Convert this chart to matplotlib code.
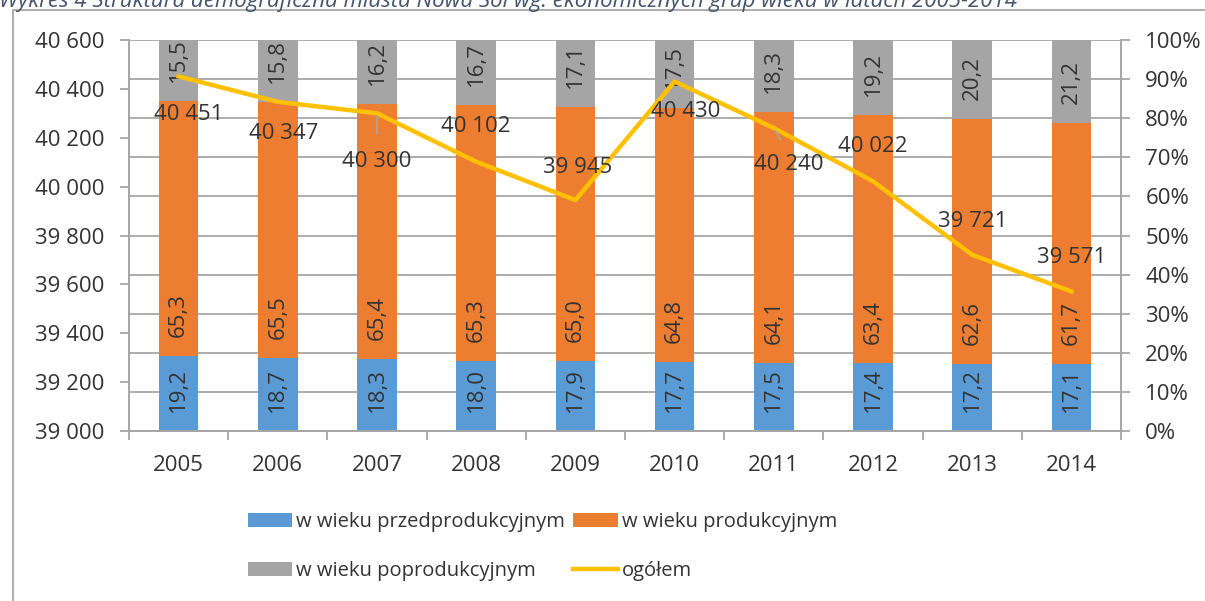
import numpy as np
import matplotlib
matplotlib.use("Agg")
import matplotlib.pyplot as plt
from matplotlib.patches import Rectangle
from matplotlib.ticker import FuncFormatter

# Data
years = ['2005', '2006', '2007', '2008', '2009', '2010', '2011', '2012', '2013', '2014']
pre_working = [19.2, 18.7, 18.3, 18.0, 17.9, 17.7, 17.5, 17.4, 17.2, 17.1]
working = [65.3, 65.5, 65.4, 65.3, 65.0, 64.8, 64.1, 63.4, 62.6, 61.7]
post_working = [15.5, 15.8, 16.2, 16.7, 17.1, 17.5, 18.3, 19.2, 20.2, 21.2]
total = [40451, 40347, 40300, 40102, 39945, 40430, 40240, 40022, 39721, 39571]

labels = ['w wieku przedprodukcyjnym', 'w wieku produkcyjnym',
          'w wieku poprodukcyjnym', 'ogółem']
title = 'Wykres 4 Struktura demograficzna miasta Nowa Sól wg. ekonomicznych grup wieku w latach 2005-2014'

# label offsets for the line values (pixels, x right / y up)
total_offsets = [(10, -38), (6, -32), (0, -48), (0, 35), (2, 33),
                 (11, -30), (15, -37), (0, 35), (0, 33), (0, 34)]
leader = [False, False, True, False, False, False, True, False, False, False]

plt.rcParams['font.family'] = ['Open Sans', 'DejaVu Sans']
colors = ['#5B9BD5', '#ED7D31', '#A5A5A5']
grid_c = '#A6A6A6'
text_c = '#333333'
fs = 16

W, H = 1205, 601
fig = plt.figure(figsize=(W / 100, H / 100), dpi=100)
fig.subplots_adjust(left=129 / W, right=1121 / W, top=1 - 40 / H, bottom=1 - 431 / H)
ax = fig.add_subplot(111)
ax2 = ax.twinx()

x = np.arange(len(years))
pre = np.array(pre_working) / 100
wrk = np.array(working) / 100
post = np.array(post_working) / 100

b1 = ax.bar(x, pre, width=0.4, color=colors[0], zorder=2)
b2 = ax.bar(x, wrk, width=0.4, bottom=pre, color=colors[1], zorder=2)
b3 = ax.bar(x, post, width=0.4, bottom=pre + wrk, color=colors[2], zorder=2)

# bar labels at the base of each segment, rotated
for vals, bases in [(pre_working, np.zeros(len(x))), (working, pre), (post_working, pre + wrk)]:
    for i, v in enumerate(vals):
        ax.annotate(f'{v:.1f}'.replace('.', ','), (x[i], bases[i]),
                    xytext=(0, 13.7), textcoords='offset points',
                    rotation=90, ha='center', va='bottom',
                    fontsize=fs, color=text_c, zorder=3)

ax.set_ylim(0, 1)
ax.set_xlim(-0.5, len(years) - 0.5)
ax.set_yticks(np.arange(0, 1.01, 0.1))
ax.yaxis.set_major_formatter(FuncFormatter(lambda v, p: f'{v * 100:.0f}%'))
ax.yaxis.tick_right()
ax.grid(axis='y', color=grid_c, lw=1.3, zorder=0)
ax.set_axisbelow(True)

ax.set_xticks(np.arange(-0.5, len(years), 1.0))
ax.set_xticklabels([])
ax.set_xticks(x, minor=True)
ax.set_xticklabels(years, minor=True)
ax.tick_params(axis='x', which='major', length=6.5, color=grid_c, width=1.3)
ax.tick_params(axis='x', which='minor', length=0, pad=17, labelsize=fs, labelcolor=text_c)
ax.tick_params(axis='y', length=6.5, color=grid_c, width=1.3, pad=11, labelsize=fs, labelcolor=text_c)

# line on the left axis
line, = ax2.plot(x, total, color='#FFC000', lw=3.2, solid_joinstyle='round', zorder=4)
ax2.set_ylim(39000, 40600)
ax2.set_yticks(np.arange(39000, 40601, 200))
ax2.yaxis.set_major_formatter(FuncFormatter(lambda v, p: f'{int(v):,}'.replace(',', ' ')))
ax2.yaxis.tick_left()
ax2.tick_params(axis='y', length=6.5, color=grid_c, width=1.3, pad=11, labelsize=fs, labelcolor=text_c)

for i, v in enumerate(total):
    dx, dy = total_offsets[i]
    kw = {}
    if leader[i]:
        kw['arrowprops'] = dict(arrowstyle='-', color='#A6A6A6', lw=1.2,
                                shrinkA=10, shrinkB=2, relpos=(0.5, 1))
    ax2.annotate(f'{v:,}'.replace(',', ' '), (x[i], v),
                 xytext=(dx * 0.72, dy * 0.72), textcoords='offset points',
                 ha='center', va='center', fontsize=fs, color=text_c, zorder=5, **kw)

for a in (ax, ax2):
    a.spines['top'].set_visible(False)
    for s in ('left', 'right', 'bottom'):
        a.spines[s].set_color(grid_c)
        a.spines[s].set_linewidth(1.3)

# legend (row-wise order with two columns)
fig.legend([b1, b3, b2, line], [labels[0], labels[2], labels[1], labels[3]],
           ncol=2, loc='upper left', bbox_to_anchor=(248 / W, 1 - 512 / H),
           frameon=False, fontsize=14.5, borderpad=0, borderaxespad=0,
           handlelength=2.2, handleheight=0.7, handletextpad=0.2,
           labelspacing=1.45, columnspacing=0.4, labelcolor=text_c)

# chart frame and cut-off title
fig.add_artist(Rectangle((13 / W, -0.1), 1.2, 1.1 - 10 / H, transform=fig.transFigure,
                         fill=False, edgecolor='#B0B0B0', lw=1.5))
fig.text(-0.001, 1 - 7 / H, title, fontsize=16, style='italic', color='#44546A',
         va='baseline', ha='left')

fig.savefig('out.png', dpi=100)
